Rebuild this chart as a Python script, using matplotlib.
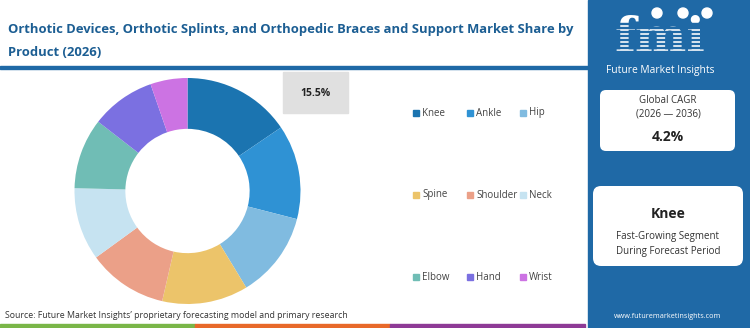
import matplotlib
matplotlib.use("Agg")
import matplotlib.pyplot as plt
from matplotlib.patches import Rectangle, FancyBboxPatch

# ---- data ----
categories = ["Knee", "Ankle", "Hip", "Spine", "Shoulder", "Neck", "Elbow", "Hand", "Wrist"]
shares = [15.5, 13.5, 12.3, 12.3, 11.4, 10.4, 10.1, 9.2, 5.3]
colors = ["#1b74b0", "#2f92d4", "#80bbe0", "#ecc46a", "#eba088", "#c6e3f1", "#70bdb5", "#7b70e1", "#cc73e3"]
highlight_label = "15.5%"
title_lines = ["Orthotic Devices, Orthotic Splints, and Orthopedic Braces and Support Market Share by",
               "Product (2026)"]
source = "Source: Future Market Insights\u2019 proprietary forecasting model and primary research"
cagr_title = "Global CAGR\n(2026 \u2014 2036)"
cagr_value = "4.2%"
segment = "Knee"
segment_desc = "Fast-Growing Segment\nDuring Forecast Period"
url = "www.futuremarketinsights.com"

FONT = "Open Sans"
plt.rcParams["font.family"] = [FONT, "DejaVu Sans"]

W, H = 750, 328
fig = plt.figure(figsize=(W / 100, H / 100), dpi=100)
fig.patch.set_facecolor("white")

# overlay axes in pixel coordinates
ov = fig.add_axes([0, 0, 1, 1])
ov.set_xlim(0, W)
ov.set_ylim(H, 0)
ov.axis("off")

panel_blue = "#1f69a6"
# right panel
ov.add_patch(Rectangle((588, 0), W - 588, H, color=panel_blue, zorder=0))
# title
for i, line in enumerate(title_lines):
    ov.text(8, 30 + 22 * i, line, fontsize=9.4, fontweight="bold", color="#1c5e93", va="center")
ov.add_patch(Rectangle((0, 66), 588, 3, color="#1f69a6", zorder=1))
# bottom stripes
stripe_cols = ["#7ab648", "#e8692a", "#8e3a96"]
for i, c in enumerate(stripe_cols):
    ov.add_patch(Rectangle((i * 195, 324), 195, 4, color=c, zorder=2))
# source
ov.text(5, 315, source, fontsize=6.3, color="#333333", va="center")

# donut
cx, cy, r = 187.5, 191, 113
dax = fig.add_axes([(cx - r) / W, (H - cy - r) / H, 2 * r / W, 2 * r / H])
dax.pie(shares, colors=colors, startangle=90, counterclock=False, radius=1,
        wedgeprops=dict(width=0.45, linewidth=0))
dax.set_xlim(-1, 1)
dax.set_ylim(-1, 1)
dax.set_aspect("equal")

# highlight label box
ov.add_patch(Rectangle((283, 72), 65, 41, color="#e0e0e0", zorder=3))
ov.text(315.5, 94, highlight_label, fontsize=7.5, fontweight="bold", color="#222222",
        ha="center", va="center", zorder=4)

# legend (3x3 grid)
col_x = [413, 467, 520]
row_y = [113, 195, 277]
for i, (cat, col) in enumerate(zip(categories, colors)):
    x = col_x[i % 3]
    y = row_y[i // 3]
    ov.add_patch(Rectangle((x, y - 3), 6, 6, color=col, zorder=3))
    ov.text(x + 9, y, cat, fontsize=7, color="#444444", va="center")

# logo
ov.text(660, 62, "fmi", fontsize=35, fontweight="bold", color="white", ha="center",
        va="bottom", family="DejaVu Serif")
for yy in range(23, 53, 4):
    ov.add_patch(Rectangle((605, yy), 112, 0.8, color=panel_blue, zorder=5))
for xx in (657, 683, 707):
    ov.add_patch(plt.Circle((xx, 13), 5, color="white", zorder=6))
ov.text(660, 70, "Future Market Insights", fontsize=7.4, color="white", ha="center", va="center")

# card 1
ov.add_patch(FancyBboxPatch((600, 90), 135, 61, boxstyle="round,pad=0,rounding_size=6",
                            facecolor="white", edgecolor="none", zorder=3))
ov.text(668, 107, cagr_title, fontsize=7, color="#333333", ha="center", va="center",
        linespacing=1.35, zorder=4)
ov.text(668, 137, cagr_value, fontsize=10, fontweight="bold", color="#222222", ha="center",
        va="center", zorder=4)

# card 2
ov.add_patch(FancyBboxPatch((593, 186), 150, 80, boxstyle="round,pad=0,rounding_size=8",
                            facecolor="white", edgecolor="none", zorder=3))
ov.text(668, 214, segment, fontsize=10, fontweight="bold", color="#222222", ha="center",
        va="center", zorder=4)
ov.text(668, 244, segment_desc, fontsize=7, color="#333333", ha="center", va="center",
        linespacing=1.4, zorder=4)

ov.text(668, 317, url, fontsize=5.2, color="white", ha="center", va="center")

fig.savefig("out.png", dpi=100, facecolor="white")
